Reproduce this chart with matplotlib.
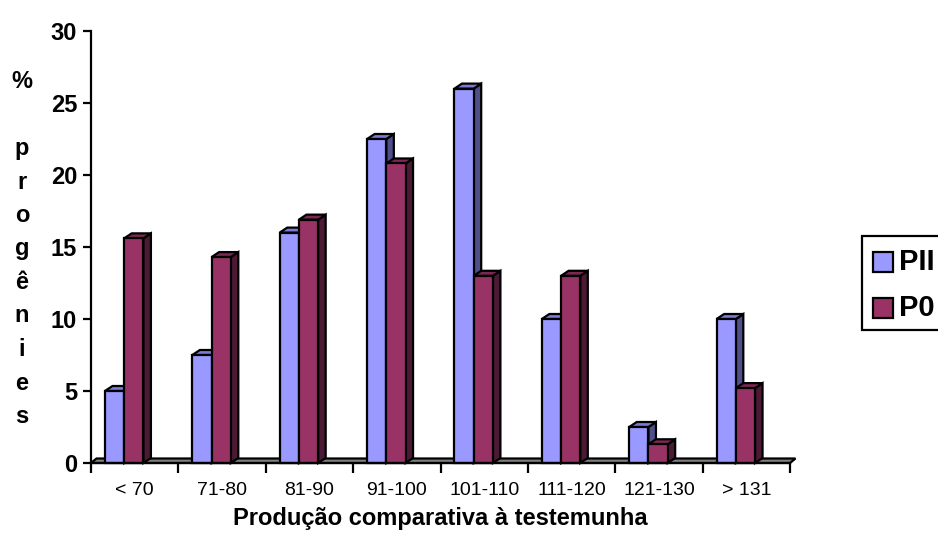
import matplotlib
matplotlib.use("Agg")
import matplotlib.pyplot as plt
from matplotlib.patches import Polygon, Rectangle

plt.rcParams['font.family'] = ['Liberation Sans', 'DejaVu Sans']

categories = ["< 70", "71-80", "81-90", "91-100", "101-110", "111-120", "121-130", "> 131"]
series_names = ["PII", "P0"]
pii_values = [5.0, 7.5, 16.0, 22.5, 26.0, 10.0, 2.5, 10.0]
p0_values = [15.6, 14.3, 16.9, 20.8, 13.0, 13.0, 1.3, 5.2]
y_ticks = [0, 5, 10, 15, 20, 25, 30]
ylabel_chars = ["%", "", "p", "r", "o", "g", "ê", "n", "i", "e", "s"]
xlabel = "Produção comparativa à testemunha"

front_colors = ["#9999FF", "#993366"]
top_colors = ["#7B7BD6", "#7D2852"]
side_colors = ["#4F4F8A", "#4C1A35"]

W, H = 938, 541
fig = plt.figure(figsize=(W / 100, H / 100), dpi=100)

def fx(x):
    return x / W

def fy(y):
    return 1 - y / H

ax_l, ax_r, ax_t, ax_b = 91, 790, 31, 463
ax = fig.add_axes([fx(ax_l), fy(ax_b), (ax_r - ax_l) / W, (ax_b - ax_t) / H])
n = len(categories)
ax.set_xlim(0, n)
ax.set_ylim(0, 30)

px_x = (ax_r - ax_l) / n      # pixels per category
px_y = (ax_b - ax_t) / 30.0   # pixels per unit

# depth offsets (pixels -> data)
bdx, bdy = 7.5 / px_x, 5.0 / px_y
fdx, fdy = 5.5 / px_x, 4.5 / px_y

lw = 1.6
# floor
floor = Polygon([(0, 0), (n, 0), (n + fdx, fdy), (fdx, fdy)], closed=True,
                facecolor="#808080", edgecolor="black", lw=lw, clip_on=False, zorder=2)
ax.add_patch(floor)

bar_w = 0.22
offset = 0.16
all_vals = [pii_values, p0_values]
for i in range(n):
    for s, vals in enumerate(all_vals):
        v = vals[i]
        x0 = i + offset + s * bar_w
        x1 = x0 + bar_w
        z = 3 + i * 2 + s
        side = Polygon([(x1, 0), (x1 + bdx, bdy), (x1 + bdx, v + bdy), (x1, v)], closed=True,
                       facecolor=side_colors[s], edgecolor="black", lw=lw, clip_on=False, zorder=z,
                       joinstyle="miter")
        top = Polygon([(x0, v), (x0 + bdx, v + bdy), (x1 + bdx, v + bdy), (x1, v)], closed=True,
                      facecolor=top_colors[s], edgecolor="black", lw=lw, clip_on=False, zorder=z,
                      joinstyle="miter")
        front = Rectangle((x0, 0), bar_w, v, facecolor=front_colors[s], edgecolor="black",
                          lw=lw, clip_on=False, zorder=z, joinstyle="miter")
        ax.add_patch(side)
        ax.add_patch(top)
        ax.add_patch(front)

for sp in ["top", "right"]:
    ax.spines[sp].set_visible(False)
ax.spines["left"].set_linewidth(lw)
ax.spines["bottom"].set_linewidth(lw)
ax.spines["left"].set_zorder(30)
ax.spines["bottom"].set_zorder(30)

ax.set_yticks(y_ticks)
ax.set_yticklabels([str(t) for t in y_ticks], fontsize=17, fontweight="bold")
ax.tick_params(axis="y", direction="out", length=6, width=lw, pad=4)

ax.set_xticks(range(n + 1))
ax.set_xticklabels([""] * (n + 1))
ax.set_xticks([i + 0.5 for i in range(n)], minor=True)
ax.set_xticklabels(categories, minor=True, fontsize=14)
ax.tick_params(axis="x", which="major", direction="out", length=7, width=lw)
ax.tick_params(axis="x", which="minor", length=0, pad=14)

# y label stacked letters
for k, ch in enumerate(ylabel_chars):
    if ch:
        fig.text(fx(22), fy(88 + 33.5 * k), ch, ha="center", va="baseline",
                 fontsize=17, fontweight="bold")

fig.text(fx((ax_l + ax_r) / 2), fy(518), xlabel, ha="center", va="center",
         fontsize=17, fontweight="bold")

# legend
leg_box = Rectangle((fx(862), fy(330)), fx(200), (330 - 236) / H, transform=fig.transFigure,
                    facecolor="white", edgecolor="black", lw=lw, clip_on=False)
fig.patches.append(leg_box)
for s, name in enumerate(series_names):
    cy = 262 + 46 * s
    sq = Rectangle((fx(873), fy(cy + 10)), 20 / W, 20 / H, transform=fig.transFigure,
                   facecolor=front_colors[s], edgecolor="black", lw=lw)
    fig.patches.append(sq)
    fig.text(fx(899), fy(cy), name, ha="left", va="center", fontsize=21, fontweight="bold")

fig.savefig("out.png", dpi=100)
